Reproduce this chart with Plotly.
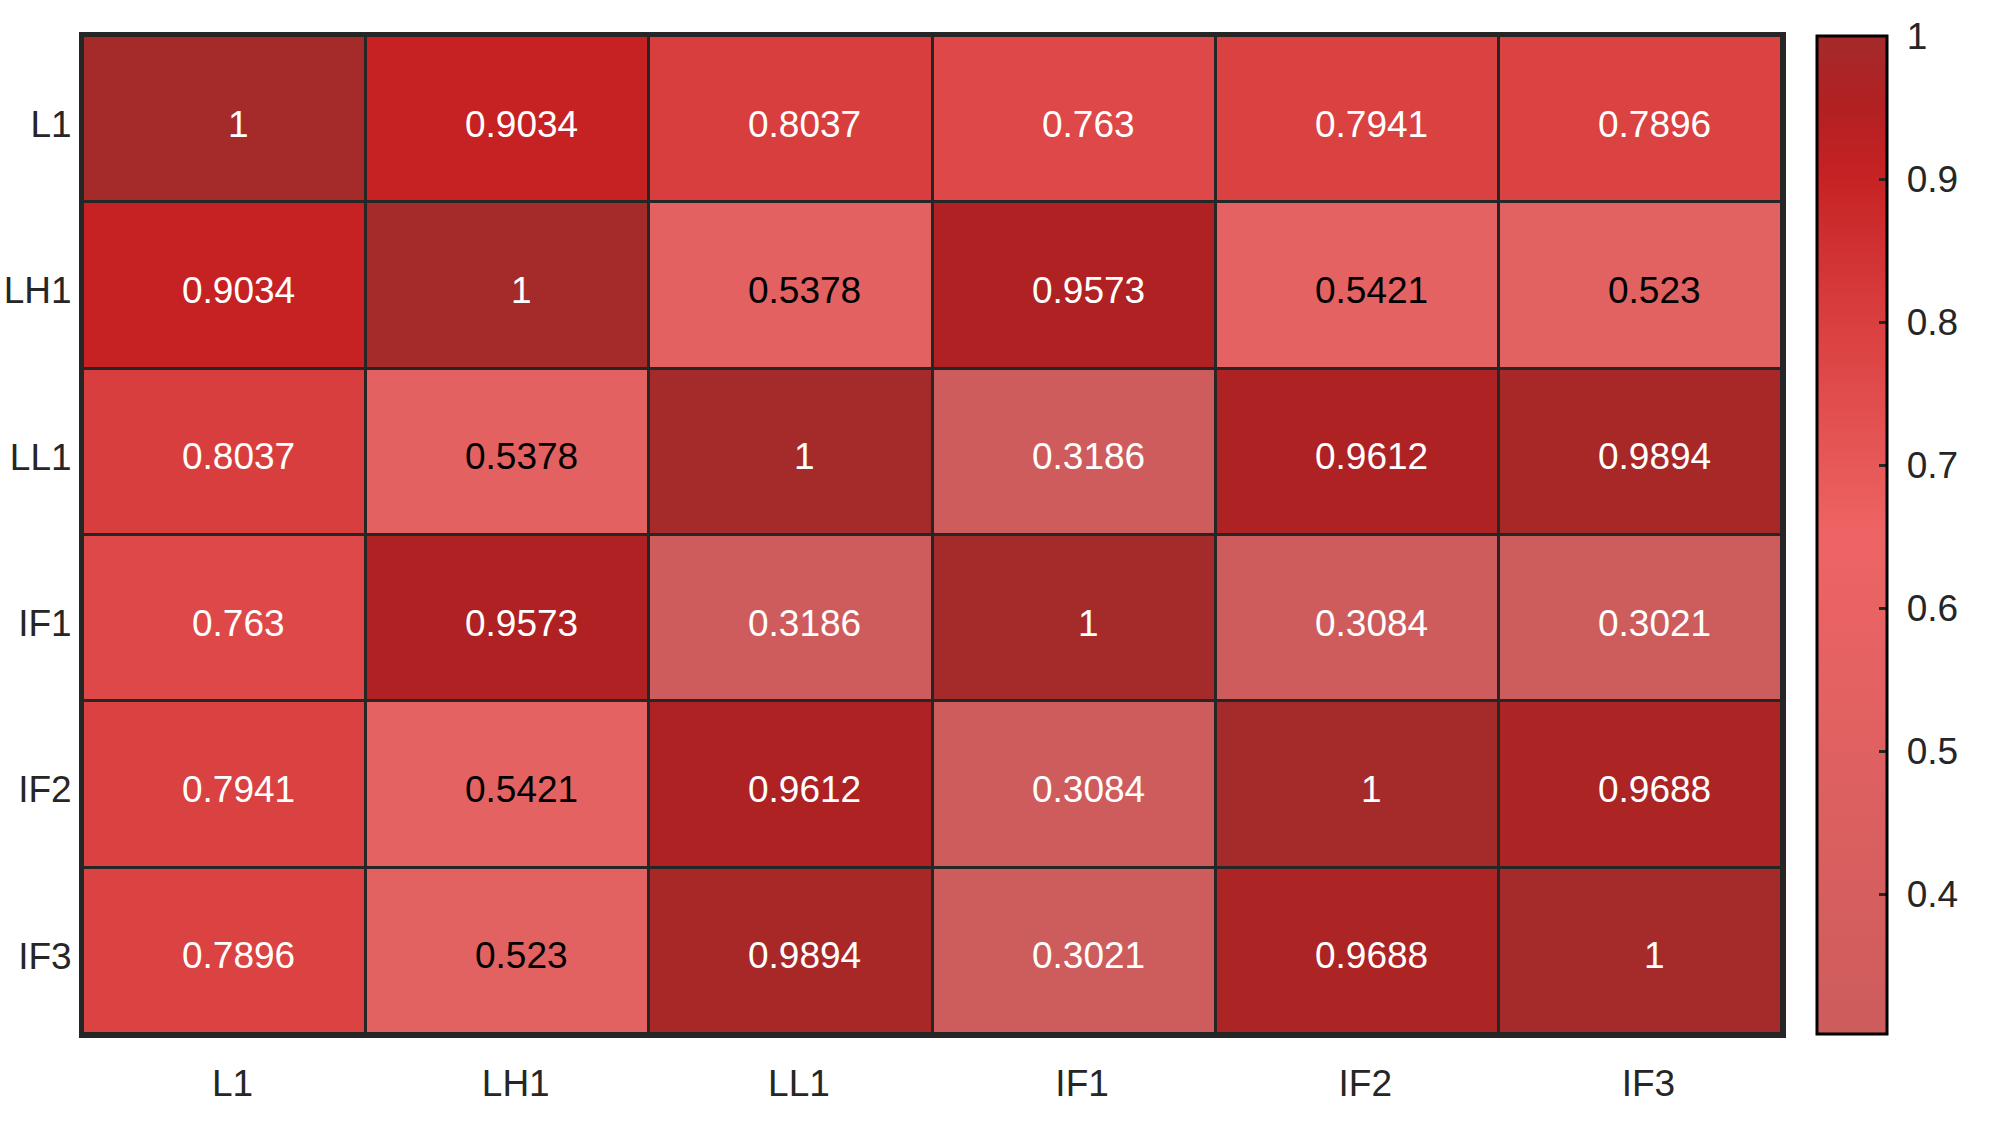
import plotly.graph_objects as go

labels = ["L1", "LH1", "LL1", "IF1", "IF2", "IF3"]
values = [
    [1, 0.9034, 0.8037, 0.763, 0.7941, 0.7896],
    [0.9034, 1, 0.5378, 0.9573, 0.5421, 0.523],
    [0.8037, 0.5378, 1, 0.3186, 0.9612, 0.9894],
    [0.763, 0.9573, 0.3186, 1, 0.3084, 0.3021],
    [0.7941, 0.5421, 0.9612, 0.3084, 1, 0.9688],
    [0.7896, 0.523, 0.9894, 0.3021, 0.9688, 1],
]
cbar_ticks = [0.4, 0.5, 0.6, 0.7, 0.8, 0.9, 1]

stops = [
    (0.0, (205, 92, 92)),
    (0.5, (238, 100, 100)),
    (0.72, (217, 62, 62)),
    (0.86, (198, 34, 36)),
    (0.93, (178, 32, 34)),
    (1.0, (165, 42, 42)),
]
colorscale = [[s, "rgb(%d,%d,%d)" % c] for s, c in stops]

flat = [v for row in values for v in row]
zmin, zmax = min(flat), max(flat)


def color_at(v):
    t = (v - zmin) / (zmax - zmin)
    for (s0, c0), (s1, c1) in zip(stops[:-1], stops[1:]):
        if s0 <= t <= s1:
            f = (t - s0) / (s1 - s0) if s1 > s0 else 0
            return [c0[i] + (c1[i] - c0[i]) * f for i in range(3)]
    return list(stops[-1][1])


def text_color(v):
    r, g, b = color_at(v)
    lum = 0.299 * r + 0.587 * g + 0.114 * b
    return "black" if lum > 130 else "white"


FONT = "Liberation Sans, Arial"

fig = go.Figure(
    go.Heatmap(
        z=values,
        x=labels,
        y=labels,
        colorscale=colorscale,
        zmin=zmin,
        zmax=zmax,
        xgap=3,
        ygap=3,
        hoverinfo="skip",
        colorbar=dict(
            x=(1817 - 83) / 1699,
            xanchor="left",
            xpad=0,
            y=0.5,
            yanchor="middle",
            ypad=0,
            len=1,
            lenmode="fraction",
            thickness=70,
            outlinewidth=3,
            outlinecolor="black",
            tickvals=cbar_ticks,
            ticktext=["\u00a0" + ("%g" % t) for t in cbar_ticks],
            ticks="inside",
            ticklen=9,
            tickwidth=3,
            tickcolor="#262626",
            tickfont=dict(family=FONT, size=37, color="#262626"),
        ),
    )
)

annotations = []
for i, row in enumerate(values):
    for j, v in enumerate(row):
        annotations.append(
            dict(
                x=labels[j],
                y=labels[i],
                xref="x",
                yref="y",
                text="%g" % v,
                showarrow=False,
                xshift=14,
                yshift=-5,
                font=dict(family=FONT, size=37, color=text_color(v)),
            )
        )

fig.update_layout(
    width=1992,
    height=1124,
    margin=dict(l=83, r=210, t=36, b=90, autoexpand=False),
    paper_bgcolor="white",
    plot_bgcolor="#262626",
    annotations=annotations,
    font=dict(family=FONT, size=37, color="#262626"),
)
fig.update_xaxes(
    showgrid=False,
    zeroline=False,
    showline=True,
    linecolor="#262626",
    linewidth=4,
    mirror=True,
    ticks="",
    ticklabelstandoff=14,
    ticklabelshift=8,
    tickfont=dict(family=FONT, size=37, color="#262626"),
)
fig.update_yaxes(
    showgrid=False,
    zeroline=False,
    showline=True,
    linecolor="#262626",
    linewidth=4,
    mirror=True,
    ticks="",
    autorange="reversed",
    ticklabelstandoff=0,
    ticklabelshift=-5,
    tickfont=dict(family=FONT, size=37, color="#262626"),
)

fig.write_html(
    "out.html",
    config={"displayModeBar": False},
    post_script="document.body.style.margin='0';document.body.style.overflow='hidden';",
)
